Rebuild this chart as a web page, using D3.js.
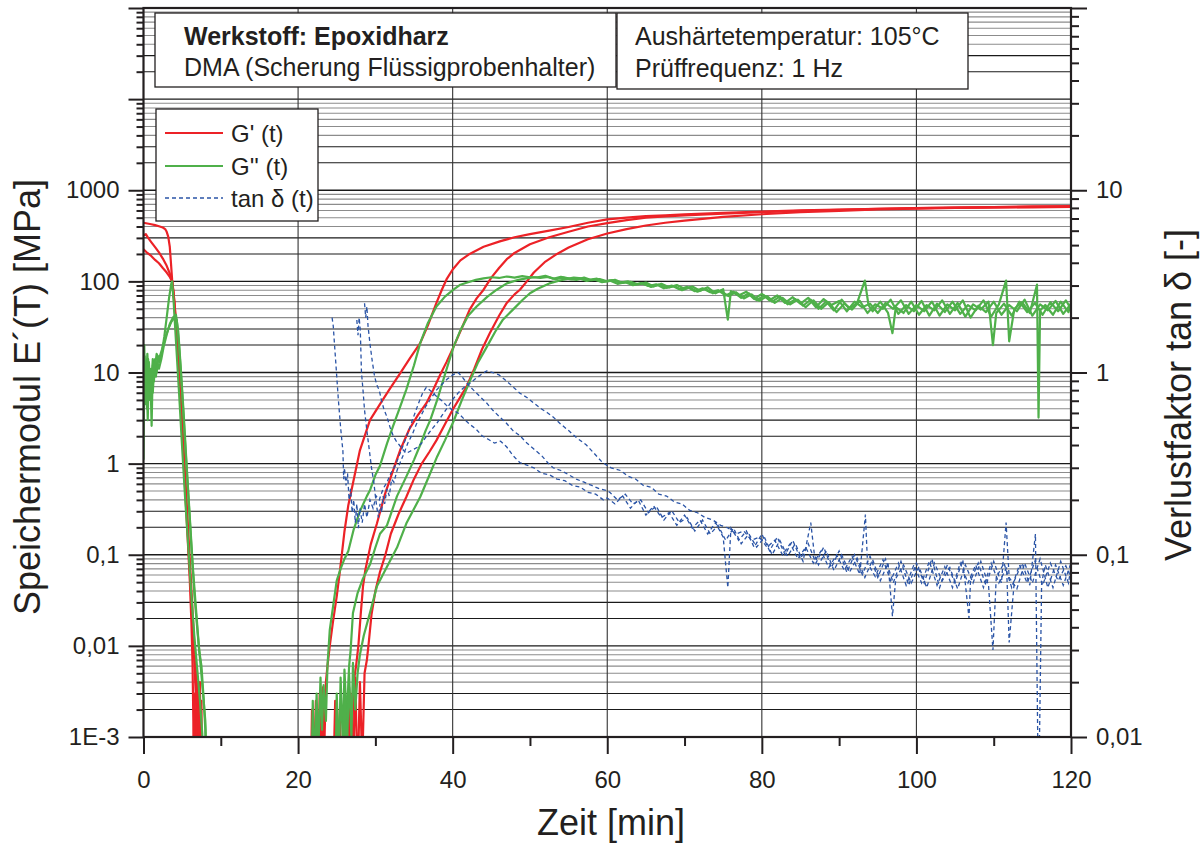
<!DOCTYPE html>
<html><head><meta charset="utf-8">
<script src="https://cdn.jsdelivr.net/npm/d3@7"></script>
<style>
body{margin:0;background:#fff}
svg{display:block}
text{font-family:"Liberation Sans",Arial,Helvetica,sans-serif;fill:#231f20}
</style>
</head><body><svg id="c" width="1203" height="843"></svg>
<script>
// ---------------- DATA ----------------
const xMajorTicks = [0,20,40,60,80,100,120];
const xMinorTicks = [10,30,50,70,90,110];
const leftLabels = {0.001:"1E-3",0.01:"0,01",0.1:"0,1",1:"1",10:"10",100:"100",1000:"1000"};
const rightLabels = {0.01:"0,01",0.1:"0,1",1:"1",10:"10"};
const legendLabels = ["G' (t)", "G'' (t)", "tan \u03b4 (t)"];
const infoLeft = ["Werkstoff: Epoxidharz", "DMA (Scherung Flüssigprobenhalter)"];
const infoRight = ["Aushärtetemperatur: 105°C", "Prüffrequenz: 1 Hz"];

// G' (storage modulus) – three specimens, [time min, MPa], null = break
const gStorage1 = [[0,440],[0.5,432],[1,424],[1.5,414],[2,402],[2.5,390],[2.8,375],[3.0,350],[3.2,310],[3.4,240],[3.55,160],[3.7,105],[3.9,70],[4.2,30],[4.5,12],[4.8,4.5],[5.1,1.5],[5.4,0.5],[5.7,0.16],[6.0,0.05],[6.2,0.018],[6.35,0.006],[6.45,0.0015],[6.5,0.0002],[6.6,0.003],[6.7,0.0003],[6.8,0.002],[6.9,0.0001],[7,null],
[21.6,0.0002],[21.8,0.002],[22.0,0.0003],[22.3,0.0025],[22.5,0.0002],[22.8,0.003],[23.0,0.0004],[23.2,0.0035],[23.4,0.0008],[23.6,0.004],[23.8,0.006],[24.1,0.01],[24.5,0.018],[25.0,0.035],[25.4,0.065],[26.0,0.18],[26.5,0.35],[27.1,0.61],[28.0,1.4],[29.3,3.0],[30.6,4.5],[31.8,6.5],[33.2,9.8],[34.5,14.5],[35.8,21],[36.8,33],[37.9,58],[38.6,81],[39.2,105],[40,135],[41,170],[42.2,200],[44,240],[46.1,275],[48,305],[50,330],[52.5,360],[55,395],[57.5,440],[60,480],[62.5,500],[65,520],[67.5,532],[70,545],[75,565],[80,582],[85,600],[90,612],[95,625],[100,638],[105,645],[110,652],[115,656],[120,662]];
const gStorage2 = [[0,320],[0.3,330],[0.6,300],[1.0,270],[1.5,238],[2.0,208],[2.5,178],[3.0,148],[3.4,122],[3.7,102],[3.9,75],[4.2,35],[4.5,14],[4.8,5],[5.1,1.8],[5.4,0.6],[5.7,0.2],[6.0,0.065],[6.3,0.02],[6.6,0.006],[6.8,0.0025],[6.95,0.0006],[7.05,0.004],[7.15,0.0002],[7.3,0.003],[7.4,0.0001],[7.5,null],
[24.5,0.0002],[24.8,0.0025],[25.1,0.0003],[25.4,0.002],[25.7,0.0001],[26.0,0.003],[26.3,0.0004],[26.6,0.0035],[26.9,0.0006],[27.2,0.004],[27.5,0.006],[27.8,0.01],[28.1,0.022],[28.4,0.045],[28.7,0.068],[29.4,0.13],[30.2,0.22],[31.2,0.45],[32.2,0.8],[33.2,1.4],[34.4,2.4],[35.5,3.4],[36.6,4.6],[37.5,6.5],[38.4,9.5],[39.2,13],[40.1,19],[41.2,31],[42.2,49],[43.1,65],[44,81],[45,110],[46,140],[47,175],[48,205],[50,255],[52.5,305],[55,350],[57.5,400],[60,435],[62.5,470],[65,500],[67.5,515],[70,530],[75,555],[80,575],[85,595],[90,610],[95,625],[100,635],[105,645],[110,655],[115,665],[120,670]];
const gStorage3 = [[0,225],[0.5,205],[1.0,190],[1.5,172],[2.0,158],[2.5,140],[3.0,125],[3.4,112],[3.7,100],[4.0,60],[4.3,28],[4.6,11],[4.9,4],[5.2,1.4],[5.5,0.5],[5.8,0.17],[6.1,0.06],[6.4,0.02],[6.7,0.007],[6.9,0.003],[7.1,0.0012],[7.2,0.0002],[7.3,0.004],[7.4,0.0003],[7.5,0.0025],[7.6,0.0001],[7.7,null],
[26.5,0.0002],[26.8,0.003],[27.1,0.0004],[27.4,0.0045],[27.7,0.0003],[28.0,0.004],[28.3,0.0005],[28.6,0.005],[28.9,0.007],[29.1,0.01],[29.5,0.022],[30.0,0.04],[30.6,0.065],[31.3,0.1],[32.0,0.17],[33.0,0.28],[34.0,0.43],[35.0,0.68],[36.0,1.0],[37.0,1.35],[37.9,1.8],[39.0,2.7],[40.0,3.9],[41.0,5.4],[41.8,7],[42.8,11],[43.8,18],[44.8,27],[46,42],[47,58],[48,72],[48.7,81],[49.6,100],[50.5,125],[52,165],[53.5,200],[55,235],[57.5,290],[60,335],[62.5,375],[65,410],[67.5,440],[70,465],[75,510],[80,545],[85,575],[90,595],[95,615],[100,630],[105,640],[110,645],[115,650],[120,655]];

// G'' (loss modulus)
const gLoss1 = [[0,1.1],[0.1,20],[0.2,6],[0.3,12],[0.45,4],[0.6,14],[0.75,5],[0.9,9],[1.05,2.6],[1.2,12],[1.35,8],[1.5,14],[1.7,10],[1.9,15],[2.1,13],[2.4,17],[2.7,25],[3.0,40],[3.3,65],[3.6,95],[3.7,100],[3.9,60],[4.2,22],[4.6,6],[5.0,1.5],[5.4,0.4],[5.8,0.12],[6.2,0.035],[6.6,0.012],[7.0,0.005],[7.3,0.0025],[7.6,0.0011],[7.8,0.0004],[7.9,null],
[21.7,0.0002],[21.9,0.0025],[22.1,0.0004],[22.4,0.003],[22.6,0.0006],[22.9,0.0045],[23.1,0.0012],[23.3,0.0037],[23.6,0.0015],[23.8,0.006],[24.1,0.015],[24.6,0.03],[25.0,0.052],[25.5,0.07],[26.0,0.09],[26.5,0.11],[27.2,0.19],[28.0,0.3],[28.9,0.44],[29.3,0.51],[30.0,0.75],[30.6,0.95],[31.5,1.66],[32.3,2.6],[33.2,4.2],[34.0,6.5],[35.0,12],[35.8,21],[36.8,35],[37.9,53],[39.0,68],[40.1,81],[41,92],[42,98],[43,104],[44,108],[45,111],[46,109],[47,113],[48,110],[49,114],[50,111],
[51,111],[52,115],[53,107],[54,112],[55,108],[56,104],[57,110],[58,103],[59,106],[60,100],[61,104],[62,96],[63,99],[64,93],[65,97],[66,88],[67,94],[68,86],[69,91],[70,83],[71,88],[72,79],[73,86],[74,74],[75,82],[75.6,38],[76,78],[77,70],[78,77],[79,64],[80,73],[81,62],[82,70],[83,58],[84,67],[85,57],[86,66],[87,52],[88,64],[89,55],[90,61],[91,47],[92,60],[93,52],[94,57],[95,45],[96,58],[97,50],[98,62],[99,44],[100,55],[101,47],[102,60],[103,42],[104,56],[105,48],[106,62],[107,40],[108,54],[109,46],[110,60],[111,43],[112,55],[113,47],[114,63],[115,42],[116,56],[117,48],[118,61],[119,44],[120,57]];
const gLoss2 = [[0,3],[0.1,12],[0.25,4.5],[0.4,9],[0.55,3],[0.7,13],[0.85,7],[1.0,11],[1.2,6],[1.4,12],[1.6,9],[1.8,13],[2.0,11],[2.3,14],[2.6,19],[3.0,26],[3.4,34],[3.8,40],[4.2,43],[4.5,28],[4.8,12],[5.2,3.5],[5.6,0.9],[6.0,0.25],[6.4,0.07],[6.8,0.025],[7.2,0.009],[7.5,0.006],[7.8,0.0025],[8.0,0.0012],[8.1,0.0004],[8.2,null],
[24.8,0.0002],[25.0,0.003],[25.3,0.0005],[25.5,0.0045],[25.8,0.0008],[26.0,0.0055],[26.3,0.0015],[26.6,0.006],[26.8,0.009],[27.1,0.023],[27.7,0.038],[28.4,0.055],[29.3,0.078],[30.0,0.12],[30.6,0.17],[31.5,0.21],[32.8,0.44],[34.0,0.72],[35.0,1.1],[35.8,1.6],[36.5,2.3],[37.1,3.0],[38.0,5],[39.0,9.5],[40.1,19],[41,29],[42,42],[43.1,53],[44.5,68],[45.7,81],[47,95],[48.5,104],[49.5,108],[50.5,111],[51.33,109],
[52.33,112],[53.33,106],[54.33,110],[55.33,105],[56.33,108],[57.33,101],[58.33,105],[59.33,98],[60.33,102],[61.33,94],[62.33,98],[63.33,91],[64.33,96],[65.33,89],[66.33,93],[67.33,84],[68.33,90],[69.33,82],[70.33,87],[71.33,78],[72.33,84],[73.33,76],[74.33,80],[75.33,70],[76.33,77],[77.33,66],[78.33,74],[79.33,62],[80.33,70],[81.33,60],[82.33,68],[83.33,56],[84.33,64],[85.33,54],[86.33,63],[87.33,50],[88.33,60],[89.33,48],[90.33,63],[91.33,50],[92.33,58],[93.33,102],[93.8,55],[94.33,47],[95.33,60],[96.33,45],[96.9,27],[97.33,52],[98.33,45],[99.33,60],[100.33,43],[101.33,55],[102.33,48],[103.33,62],[104.33,44],[105.33,58],[106.33,41],[107.33,56],[108.33,49],[109.33,60],[109.9,20],[110.33,45],[111.33,57],[112.33,42],[113.33,60],[114.33,46],[115.33,58],[116.33,43],[117.33,59],[118.33,47],[119.33,62],[120,50]];
const gLoss3 = [[0,5],[0.15,15],[0.3,7],[0.5,16],[0.65,8],[0.8,11],[1.0,7],[1.2,14],[1.4,10],[1.7,16],[2.0,14],[2.4,18],[2.8,24],[3.2,30],[3.6,36],[4.0,40],[4.3,38],[4.6,20],[5.0,6],[5.4,1.6],[5.8,0.45],[6.2,0.12],[6.6,0.035],[7.0,0.014],[7.4,0.006],[7.7,0.003],[8.0,0.0015],[8.2,0.0004],[8.3,null],
[25.8,0.0002],[26.0,0.0035],[26.3,0.0006],[26.6,0.005],[26.9,0.001],[27.1,0.0065],[27.4,0.002],[27.7,0.005],[28.0,0.008],[28.5,0.013],[29.3,0.023],[30.2,0.045],[31.5,0.074],[32.8,0.12],[34.0,0.22],[35.0,0.32],[35.8,0.43],[37.0,0.75],[38.0,1.2],[39.0,1.8],[40.1,2.9],[41.2,5],[42.2,8],[43.3,13],[44.4,19],[45.5,28],[46.5,38],[47.8,49],[49,62],[50,74],[51,83],[52.5,95],[54,103],[55,107],[55.67,110],
[56.67,108],[57.67,104],[58.67,107],[59.67,100],[60.67,103],[61.67,97],[62.67,100],[63.67,92],[64.67,95],[65.67,87],[66.67,92],[67.67,85],[68.67,89],[69.67,80],[70.67,86],[71.67,77],[72.67,83],[73.67,74],[74.67,79],[75.67,69],[76.67,76],[77.67,65],[78.67,72],[79.67,61],[80.67,69],[81.67,58],[82.67,66],[83.67,56],[84.67,63],[85.67,52],[86.67,62],[87.67,50],[88.67,59],[89.67,46],[90.67,57],[91.67,49],[92.67,61],[93.67,45],[94.67,56],[95.67,50],[96.67,63],[97.67,44],[98.67,55],[99.67,47],[100.67,61],[101.67,42],[102.67,57],[103.67,46],[104.67,60],[105.67,44],[106.67,55],[107.67,48],[108.67,62],[109.67,41],[110.67,56],[111.6,102],[112,22],[112.67,50],[113.67,59],[114.67,45],[115.6,92],[115.8,3.2],[116.0,48],[116.67,55],[117.67,43],[118.67,60],[119.67,46],[120,58]];

// tan delta (right axis)
const tanD1 = [[24.4,2.0],[24.55,1.8],[24.7,1.45],[24.9,1.1],[25.2,0.72],[25.5,0.5],[25.8,0.37],[25.9,0.26],[26.0,0.3],[26.2,0.24],[26.4,0.28],[26.6,0.2],[26.8,0.23],[27.0,0.17],[27.2,0.2],[27.4,0.15],[27.6,0.19],[27.8,0.14],[28.0,0.18],[28.3,0.15],[28.6,0.19],[28.9,0.16],[29.3,0.2],[29.7,0.18],[30.1,0.21],[30.5,0.2],[31.0,0.23],[31.5,0.25],[32.0,0.28],[32.6,0.31],[33.2,0.36],[33.8,0.42],[34.4,0.49],[35.0,0.58],[35.6,0.68],[36.1,0.77],[36.6,0.83],[37.2,0.79],[37.9,0.74],[38.6,0.7],[39.2,0.66],[40.0,0.62],[40.7,0.6],[41.4,0.56],[42.2,0.52],[43.0,0.49],[43.8,0.45],[44.6,0.43],[45.4,0.41],[46.2,0.42],[47.0,0.39],[47.8,0.35],[48.7,0.32],[49.6,0.31],[50.5,0.3],[51.5,0.28],[52.5,0.275],[53.5,0.26],[54.5,0.255],[55.5,0.24],[56.5,0.235],[57.5,0.22],[58.5,0.215],[59.5,0.2],[60,0.205],
[61,0.19],[62,0.21],[63,0.18],[64,0.2],[65,0.165],[66,0.185],[67,0.16],[68,0.17],[69,0.145],[70,0.165],[71,0.14],[72,0.155],[73,0.13],[74,0.15],[75,0.125],[75.6,0.066],[76,0.14],[77,0.12],[78,0.135],[79,0.11],[80,0.13],[81,0.105],[82,0.125],[83,0.1],[84,0.12],[85,0.095],[86,0.115],[87,0.09],[88,0.11],[89,0.085],[90,0.105],[91,0.08],[92,0.1],[93,0.078],[94,0.098],[95,0.075],[96,0.095],[97,0.07],[98,0.092],[99,0.068],[100,0.09],[101,0.07],[102,0.095],[103,0.066],[104,0.088],[105,0.07],[106,0.094],[106.8,0.045],[107,0.072],[108,0.09],[109,0.068],[110,0.092],[111,0.07],[111.6,0.15],[112,0.075],[113,0.065],[114,0.09],[115,0.07],[116,0.095],[117,0.066],[118,0.088],[119,0.068],[120,0.09]];
const tanD2 = [[27.6,1.94],[27.75,1.6],[27.9,2.0],[28.05,1.7],[28.2,1.0],[28.4,0.8],[28.6,0.62],[28.9,0.48],[29.2,0.38],[29.5,0.3],[29.8,0.25],[30.0,0.21],[30.2,0.18],[30.4,0.16],[30.6,0.19],[30.8,0.17],[31.0,0.21],[31.2,0.19],[31.5,0.23],[31.8,0.21],[32.1,0.26],[32.4,0.25],[32.8,0.29],[33.2,0.32],[33.7,0.36],[34.2,0.41],[34.8,0.46],[35.3,0.52],[35.9,0.58],[36.5,0.65],[37.2,0.72],[37.9,0.8],[38.6,0.86],[39.3,0.92],[40.0,0.97],[40.7,1.0],[41.2,0.95],[41.7,0.89],[42.2,0.84],[42.7,0.8],[43.5,0.74],[44.4,0.68],[45.2,0.62],[46.1,0.57],[46.9,0.53],[47.8,0.48],[48.7,0.45],[49.6,0.41],[50.5,0.38],[51.5,0.35],[52.3,0.32],[53,0.3],[54,0.29],[55,0.275],[56,0.26],[57,0.25],[58,0.24],[59,0.23],[60,0.225],
[60.33,0.22],[61.33,0.2],[62.33,0.215],[63.33,0.19],[64.33,0.2],[65.33,0.17],[66.33,0.185],[67.33,0.155],[68.33,0.175],[69.33,0.15],[70.33,0.16],[71.33,0.135],[72.33,0.155],[73.33,0.13],[74.33,0.145],[75.33,0.12],[76.33,0.14],[77.33,0.115],[78.33,0.13],[79.33,0.11],[80.33,0.125],[81.33,0.1],[82.33,0.12],[83.33,0.098],[84.33,0.115],[85.33,0.092],[86.33,0.15],[86.8,0.1],[87.33,0.088],[88.33,0.105],[89.33,0.082],[90.33,0.1],[91.33,0.08],[92.33,0.096],[93.33,0.075],[94.33,0.094],[95.33,0.072],[96.33,0.09],[96.9,0.046],[97.33,0.074],[98.33,0.088],[99.33,0.07],[100.33,0.086],[101.33,0.066],[102.33,0.09],[103.33,0.072],[104.33,0.085],[105.33,0.065],[106.33,0.088],[107.33,0.07],[108.33,0.092],[109.33,0.068],[109.9,0.03],[110.33,0.075],[111.33,0.09],[112.33,0.066],[113.33,0.088],[114.33,0.07],[115.33,0.092],[116.33,0.068],[117.33,0.09],[118.33,0.072],[119.33,0.087],[120,0.075]];
const tanD3 = [[28.6,2.4],[28.75,2.0],[28.9,2.3],[29.05,1.8],[29.3,1.44],[29.6,1.15],[29.9,0.95],[30.2,0.85],[30.5,0.8],[30.8,0.7],[31.1,0.63],[31.5,0.57],[31.9,0.5],[32.3,0.45],[32.7,0.42],[33.1,0.4],[33.5,0.38],[34.0,0.36],[34.5,0.37],[35.0,0.38],[35.5,0.39],[36.0,0.41],[36.5,0.44],[37.0,0.47],[37.5,0.5],[38.0,0.53],[38.6,0.58],[39.3,0.64],[40.1,0.72],[40.8,0.78],[41.5,0.83],[42.2,0.87],[42.9,0.92],[43.6,0.97],[44.4,1.02],[45.2,1.0],[46.0,0.97],[46.8,0.91],[47.6,0.85],[48.7,0.77],[49.6,0.73],[50.5,0.68],[51.5,0.63],[52.3,0.6],[53,0.57],[54,0.52],[55,0.48],[56,0.44],[57.3,0.4],[58.3,0.36],[59.4,0.32],[60.5,0.3],[61.7,0.29],
[62.67,0.27],[63.67,0.26],[64.67,0.24],[65.67,0.235],[66.67,0.215],[67.67,0.21],[68.67,0.195],[69.67,0.19],[70.67,0.175],[71.67,0.17],[72.67,0.16],[73.67,0.155],[74.67,0.145],[75.67,0.14],[76.67,0.13],[77.67,0.135],[78.67,0.12],[79.67,0.125],[80.67,0.11],[81.67,0.12],[82.67,0.1],[83.67,0.115],[84.67,0.095],[85.67,0.11],[86.67,0.09],[87.67,0.105],[88.67,0.085],[89.67,0.1],[90.67,0.082],[91.67,0.098],[92.67,0.078],[93.4,0.166],[93.67,0.09],[94.67,0.076],[95.67,0.094],[96.67,0.072],[97.67,0.09],[98.67,0.068],[99.67,0.088],[100.67,0.07],[101.67,0.092],[102.67,0.068],[103.67,0.086],[104.67,0.066],[105.67,0.09],[106.67,0.07],[107.67,0.088],[108.67,0.066],[109.67,0.09],[110.67,0.07],[111.67,0.085],[112,0.033],[112.67,0.072],[113.67,0.09],[114.67,0.068],[115.4,0.13],[115.8,0.004],[116.2,0.07],[116.67,0.088],[117.67,0.066],[118.67,0.092],[119.67,0.07],[120,0.085]];

// ---------------- CHART ----------------
const RED="#ec2227", GREEN="#4fb04a", BLUE="#2a54a6", INK="#231f20";
const L=143.5, R=1071, T=8, B=737;
const svg=d3.select("#c");
const x=d3.scaleLinear().domain([0,120]).range([L,R]);
const y=d3.scaleLog().domain([1e-3,1e5]).range([B,T]);
const yR=d3.scaleLog().domain([0.01,100]).range([B,T]);

function logTicks(e0,e1){const a=[];for(let e=e0;e<e1;e++){for(let m=1;m<10;m++)a.push(Number((m*Math.pow(10,e)).toPrecision(2)));}a.push(Number(Math.pow(10,e1).toPrecision(2)));return a;}
const isMajor=v=>Math.abs(Math.log10(v)-Math.round(Math.log10(v)))<1e-9;
const leftTicks=logTicks(-3,5), rightTicks=logTicks(-2,2);

svg.append("defs").append("clipPath").attr("id","clip").append("rect").attr("x",L).attr("y",T).attr("width",R-L).attr("height",B-T);

// grid
const grid=svg.append("g");
grid.selectAll("line.h").data(leftTicks).enter().append("line")
  .attr("x1",L).attr("x2",R).attr("y1",d=>y(d)).attr("y2",d=>y(d))
  .attr("stroke",d=>{const m=Math.round(d/Math.pow(10,Math.floor(Math.log10(d)+1e-9)));return (isMajor(d)||m===2||m===3)?"#1a1a1a":"#8c8c8c";})
  .attr("stroke-width",d=>isMajor(d)?1.3:1.1);
grid.selectAll("line.v").data(xMajorTicks.slice(1,-1)).enter().append("line")
  .attr("x1",d=>x(d)).attr("x2",d=>x(d)).attr("y1",T).attr("y2",B)
  .attr("stroke","#333").attr("stroke-width",1.1);

// series
const plot=svg.append("g").attr("clip-path","url(#clip)");
const lineL=d3.line().defined(d=>d[1]!=null).x(d=>x(d[0])).y(d=>y(d[1]));
const lineR=d3.line().defined(d=>d[1]!=null).x(d=>x(d[0])).y(d=>yR(d[1]));
[gStorage1,gStorage2,gStorage3].forEach(s=>plot.append("path").attr("d",lineL(s)).attr("fill","none").attr("stroke",RED).attr("stroke-width",2.2).attr("stroke-linejoin","round"));
[gLoss1,gLoss2,gLoss3].forEach(s=>plot.append("path").attr("d",lineL(s)).attr("fill","none").attr("stroke",GREEN).attr("stroke-width",2.2).attr("stroke-linejoin","round"));
[tanD1,tanD2,tanD3].forEach(s=>plot.append("path").attr("d",lineR(s)).attr("fill","none").attr("stroke",BLUE).attr("stroke-width",1.3).attr("stroke-dasharray","4,3"));

// axes
function styleAxis(g){g.select(".domain").remove();g.selectAll(".tick line").attr("stroke",INK).attr("stroke-width",2);g.selectAll(".tick text").attr("font-size",24).attr("fill",INK).attr("font-family","'Liberation Sans',Arial,sans-serif");}
const axL=svg.append("g").attr("transform",`translate(${L},0)`)
  .call(d3.axisLeft(y).tickValues(leftTicks).tickSize(7).tickPadding(17).tickFormat(d=>leftLabels[d]||""));
styleAxis(axL); axL.selectAll(".tick line").attr("x2",d=>isMajor(d)?-15:-7);
const axR=svg.append("g").attr("transform",`translate(${R},0)`)
  .call(d3.axisRight(yR).tickValues(rightTicks).tickSize(8).tickPadding(17).tickFormat(d=>rightLabels[d]||""));
styleAxis(axR); axR.selectAll(".tick line").attr("x2",d=>isMajor(d)?16:8);
const axB=svg.append("g").attr("transform",`translate(0,${B})`)
  .call(d3.axisBottom(x).tickValues(xMajorTicks.concat(xMinorTicks)).tickSize(9).tickPadding(25).tickFormat(d=>xMajorTicks.includes(d)?String(d):""));
styleAxis(axB); axB.selectAll(".tick line").attr("y2",d=>xMajorTicks.includes(d)?17:9);

// frame
svg.append("rect").attr("x",L).attr("y",T).attr("width",R-L).attr("height",B-T).attr("fill","none").attr("stroke",INK).attr("stroke-width",2.2);

// axis titles
svg.append("text").attr("x",611).attr("y",835).attr("text-anchor","middle").attr("font-size",36).text("Zeit [min]");
svg.append("text").attr("transform","translate(40,397) rotate(-90)").attr("text-anchor","middle").attr("font-size",36).text("Speichermodul E\u00b4(T) [MPa]");
svg.append("text").attr("transform","translate(1191,395) rotate(-90)").attr("text-anchor","middle").attr("font-size",36).text("Verlustfaktor tan \u03b4 [-]");

// info boxes
svg.append("rect").attr("x",155).attr("y",13).attr("width",461).attr("height",74).attr("fill","#fff").attr("stroke",INK).attr("stroke-width",1.3);
svg.append("text").attr("x",184).attr("y",45).attr("font-size",25).attr("font-weight","bold").text(infoLeft[0]);
svg.append("text").attr("x",184).attr("y",76).attr("font-size",25).text(infoLeft[1]);
svg.append("rect").attr("x",617).attr("y",13).attr("width",351).attr("height",76).attr("fill","#fff").attr("stroke",INK).attr("stroke-width",1.3);
svg.append("text").attr("x",635).attr("y",45).attr("font-size",25).text(infoRight[0]);
svg.append("text").attr("x",635).attr("y",77).attr("font-size",25).text(infoRight[1]);

// legend
svg.append("rect").attr("x",156).attr("y",109).attr("width",162).attr("height",112).attr("fill","#fff").attr("stroke",INK).attr("stroke-width",1.3);
const legY=[133,166,198], legC=[RED,GREEN,BLUE];
legendLabels.forEach((t,i)=>{
  const ln=svg.append("line").attr("x1",165).attr("x2",223).attr("y1",legY[i]).attr("y2",legY[i]).attr("stroke",legC[i]).attr("stroke-width",i<2?2.2:1.3);
  if(i===2) ln.attr("stroke-dasharray","4,3");
  svg.append("text").attr("x",231).attr("y",legY[i]+8.5).attr("font-size",24).text(t);
});
</script>
</body></html>
